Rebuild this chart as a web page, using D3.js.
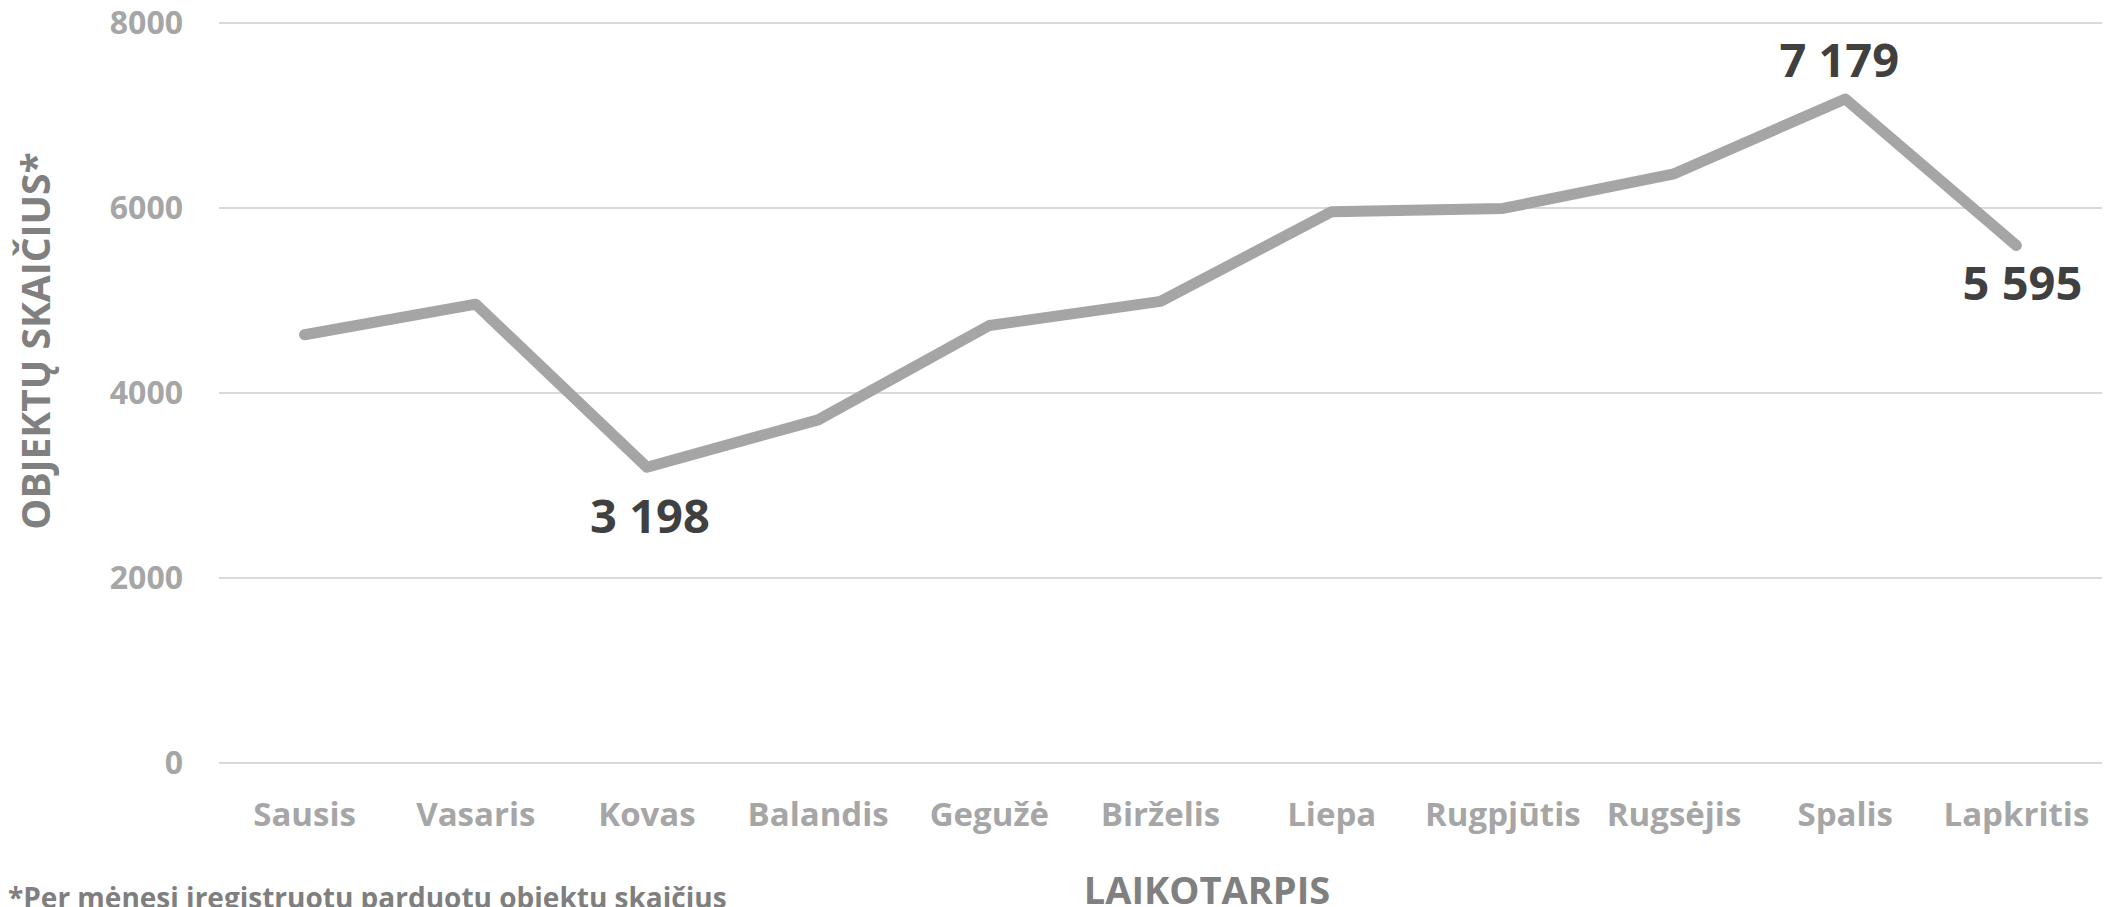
<!DOCTYPE html>
<html><head><meta charset="utf-8">
<script src="https://cdn.jsdelivr.net/npm/d3@7"></script>
<style>
html,body{margin:0;padding:0;background:#fff;}
svg{display:block;font-family:"Open Sans",sans-serif;}
</style></head>
<body><svg id="c" width="2110" height="907"></svg>
<script>
const months = ["Sausis","Vasaris","Kovas","Balandis","Gegužė","Birželis","Liepa","Rugpjūtis","Rugsėjis","Spalis","Lapkritis"];
const values = [4630,4960,3198,3710,4730,4990,5960,5995,6370,7179,5595];
const yTicks = [0,2000,4000,6000,8000];
const labelled = [{i:2,text:"3 198",dx:3,dy:66},{i:9,text:"7 179",dx:-6,dy:-22},{i:10,text:"5 595",dx:6,dy:55}];
const yTitle = "OBJEKTŲ SKAIČIUS*";
const xTitle = "LAIKOTARPIS";
const footnote = "*Per mėnesį įregistruotų parduotų objektų skaičius";

const FONT = "'Open Sans', sans-serif";
const svg = d3.select("#c");
const m = {left:219, right:2102, top:23, bottom:763};
const x = d3.scaleBand().domain(months).range([m.left,m.right]);
const y = d3.scaleLinear().domain([0,8000]).range([m.bottom,m.top]);
const cx = d => x(d)+x.bandwidth()/2;

// gridlines
svg.append("g").selectAll("line").data(yTicks).join("line")
  .attr("x1",m.left).attr("x2",m.right)
  .attr("y1",d=>y(d)).attr("y2",d=>y(d))
  .attr("stroke","#d9d9d9").attr("stroke-width",2);

// y axis labels
const ya = svg.append("g").attr("transform",`translate(183,0)`)
  .call(d3.axisLeft(y).tickValues(yTicks).tickSize(0).tickPadding(0).tickFormat(d3.format("d")));
ya.select(".domain").remove();
ya.selectAll("text").attr("font-size",32).attr("font-weight",700).attr("fill","#a6a6a6")
  .attr("font-family",FONT);

// x axis labels
const xa = svg.append("g").attr("transform",`translate(0,826)`)
  .call(d3.axisBottom(x).tickSize(0).tickPadding(0));
xa.select(".domain").remove();
xa.selectAll("text").attr("font-size",33).attr("font-weight",700).attr("fill","#a6a6a6")
  .attr("y",0).attr("dy","0").attr("font-family",FONT);

// line
const line = d3.line().x((d,i)=>cx(months[i])).y(d=>y(d));
svg.append("path").datum(values).attr("d",line)
  .attr("fill","none").attr("stroke","#a5a5a5").attr("stroke-width",11)
  .attr("stroke-linejoin","round").attr("stroke-linecap","round");

// data labels
svg.append("g").selectAll("text").data(labelled).join("text")
  .attr("x",d=>cx(months[d.i]) + d.dx)
  .attr("y",d=>y(values[d.i]) + d.dy)
  .attr("text-anchor","middle")
  .attr("font-family",FONT).attr("font-size",47).attr("font-weight",700).attr("fill","#404040")
  .text(d=>d.text);

// titles
svg.append("text").attr("transform",`translate(50,341) rotate(-90)`)
  .attr("text-anchor","middle").attr("font-family",FONT)
  .attr("font-size",39).attr("font-weight",700).attr("fill","#808080").text(yTitle);
svg.append("text").attr("x",1207).attr("y",904).attr("text-anchor","middle").attr("font-family",FONT)
  .attr("font-size",38).attr("font-weight",700).attr("fill","#808080").text(xTitle);
svg.append("text").attr("x",8).attr("y",908).attr("font-family",FONT)
  .attr("font-size",28).attr("font-weight",700).attr("fill","#7f7f7f").text(footnote);
</script></body></html>
